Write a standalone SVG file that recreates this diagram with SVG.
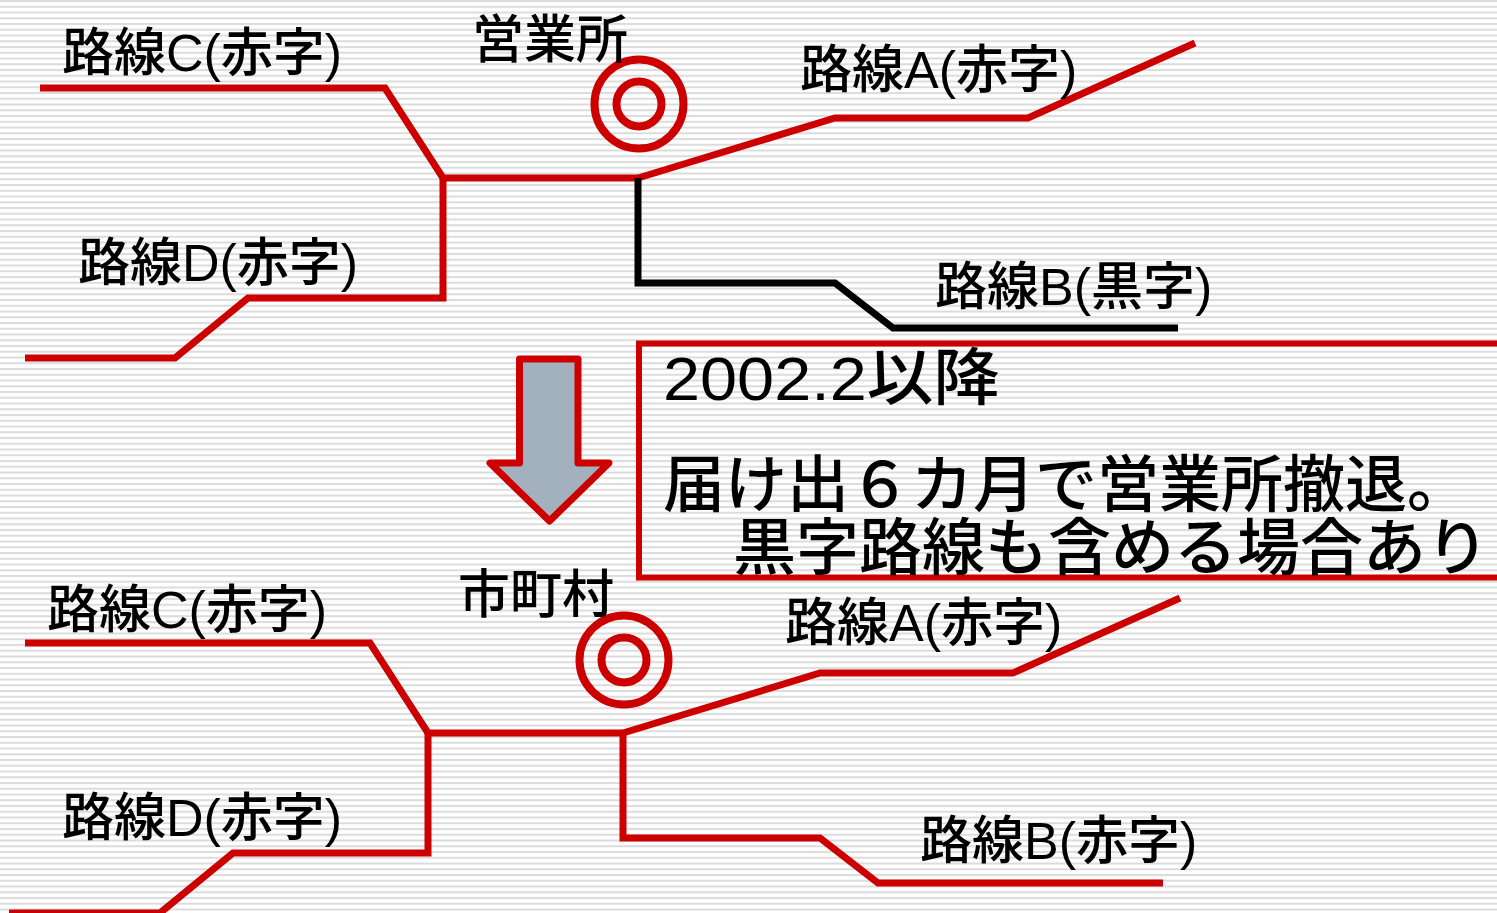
<svg xmlns="http://www.w3.org/2000/svg" width="1497" height="913" viewBox="0 0 1497 913">
  <style>
    .red { fill: none; stroke: #cc0000; stroke-width: 7; stroke-linejoin: miter; }
    .blk { fill: none; stroke: #000000; stroke-width: 7; stroke-linejoin: miter; }
    .ring { fill: none; stroke: #cc0000; stroke-width: 8; }
    .lbl { font-family: "Liberation Sans", "Noto Sans CJK JP", sans-serif; font-size: 52px; font-weight: 500; fill: #000; }
    .box { font-family: "Liberation Sans", "Noto Sans CJK JP", sans-serif; font-size: 62px; font-weight: 500; fill: #000; }
  </style>
  <defs>
    <pattern id="stripes" x="0" y="0" width="20" height="5.75" patternUnits="userSpaceOnUse">
      <rect x="0" y="0" width="20" height="5.75" fill="#ffffff"/>
      <rect x="0" y="0" width="20" height="2" fill="#dcdcdc"/>
    </pattern>
  </defs>
  <rect x="0" y="0" width="1497" height="913" fill="url(#stripes)"/>

  <g id="connectors">
    <!-- top diagram -->
    <polyline class="red" points="40,88 385,88 443,178 638,178"/>
    <polyline class="red" points="443,178 443,298 248,298 175,358 25,358"/>
    <polyline class="red" points="638,178 835,118 1028,118 1195,43"/>
    <polyline class="blk" points="638,178 638,283 835,283 893,328 1178,328"/>
    <!-- bottom diagram -->
    <polyline class="red" points="25,643 370,643 428,733 623,733"/>
    <polyline class="red" points="428,733 428,853 233,853 160,913 9,913"/>
    <polyline class="red" points="623,733 820,673 1013,673 1180,598"/>
    <polyline class="red" points="623,733 623,838 820,838 878,883 1163,883"/>
  </g>

  <g id="station-top">
    <circle class="ring" cx="639" cy="104" r="44.5"/>
    <circle class="ring" cx="639" cy="104" r="22.5"/>
    <text class="lbl" x="472" y="58">営業所</text>
  </g>
  <g id="station-bottom">
    <circle class="ring" cx="624" cy="660" r="44.5"/>
    <circle class="ring" cx="624" cy="660" r="22.5"/>
    <text class="lbl" x="458" y="613">市町村</text>
  </g>

  <g id="labels-top">
    <text class="lbl" x="62" y="71">路線C(赤字)</text>
    <text class="lbl" x="800" y="88">路線A(赤字)</text>
    <text class="lbl" x="78" y="281">路線D(赤字)</text>
    <text class="lbl" x="935" y="305">路線B(黒字)</text>
  </g>
  <g id="labels-bottom">
    <text class="lbl" x="47" y="628">路線C(赤字)</text>
    <text class="lbl" x="785" y="641">路線A(赤字)</text>
    <text class="lbl" x="62" y="836">路線D(赤字)</text>
    <text class="lbl" x="920" y="859">路線B(赤字)</text>
  </g>

  <g id="arrow">
    <polygon points="519.5,359 578,359 578,463 609,463 549.5,521 490,463 519.5,463" fill="#a3b1be" stroke="#cc0000" stroke-width="7" stroke-linejoin="round"/>
  </g>

  <g id="note">
    <rect x="639" y="343.5" width="900" height="234" fill="none" stroke="#cc0000" stroke-width="6"/>
    <text class="box" x="663" y="400" textLength="337" lengthAdjust="spacingAndGlyphs">2002.2以降</text>
    <text class="box" x="663" y="507">届け出６カ月で営業所撤退。</text>
    <text class="box" x="733" y="570" textLength="756" lengthAdjust="spacingAndGlyphs">黒字路線も含める場合あり</text>
  </g>
</svg>
